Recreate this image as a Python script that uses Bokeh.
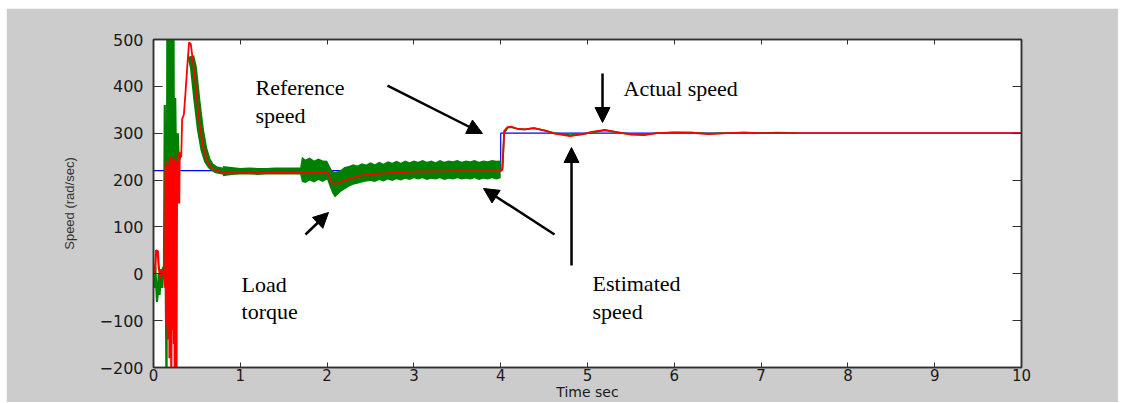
from bokeh.plotting import figure
from bokeh.models import Range1d, LinearAxis, Label, Arrow, NormalHead, FixedTicker, Spacer
from bokeh.layouts import column, row
from bokeh.embed import file_html
from bokeh.resources import INLINE

# ---------------- data ----------------
x_ticks = [0, 1, 2, 3, 4, 5, 6, 7, 8, 9, 10]
y_ticks = [-200, -100, 0, 100, 200, 300, 400, 500]

# reference speed (blue)
ref_t = [0.0, 4.0, 4.0, 10.0]
ref_v = [220, 220, 300, 300]

# actual speed (red): start-up oscillation
act0_t = [0.00, 0.02, 0.03, 0.05, 0.06, 0.08, 0.10, 0.12, 0.135, 0.140, 0.145, 0.150,
          0.155, 0.160, 0.165, 0.170, 0.175, 0.180, 0.185, 0.190, 0.195, 0.200, 0.205,
          0.210, 0.215, 0.220, 0.225, 0.230, 0.235, 0.240, 0.245, 0.250, 0.255, 0.260,
          0.265, 0.270, 0.275, 0.280, 0.285, 0.290, 0.295, 0.300, 0.305]
act0_v = [0, 10, 50, 48, 15, -10, 10, 0, -30, 230, -110, 200,
          -100, 240, -140, 230, -90, 210, -180, 250, -100, 220, -200,
          240, -120, 235, -60, 250, -150, 230, -200, 245, -100, 240,
          -200, 235, 150, 240, 160, 255, 150, 260, 250]
# actual speed (red): rest of the run
act_t = [0.305, 0.320, 0.330, 0.350, 0.370, 0.390, 0.410, 0.430, 0.450, 0.480, 0.510,
         0.540, 0.580, 0.620, 0.660, 0.720, 0.800, 1.00, 1.50, 2.00, 2.02, 2.04, 2.08,
         2.14, 2.20, 2.30, 2.40, 2.55, 2.70, 3.00, 3.50, 4.00, 4.02, 4.04, 4.08, 4.12,
         4.20, 4.28, 4.38, 4.50, 4.62, 4.80, 4.95, 5.05, 5.20, 5.35, 5.50, 5.65, 5.80,
         6.00, 6.20, 6.40, 6.60, 6.80, 7.00, 10.0]
act_v = [250, 250, 330, 340, 390, 445, 494, 490, 460, 415, 355,
         305, 265, 240, 228, 220, 216, 215, 216, 217, 212, 198, 192,
         194, 199, 205, 210, 213, 215, 218, 219, 219, 222, 305, 313, 314,
         309, 308, 311, 306, 299, 294, 298, 303, 307, 302, 297, 296, 300,
         302, 301, 298, 300, 301, 300, 300]

# estimated speed (green): start-up transient
est0_t = [0.00, 0.01, 0.02, 0.03, 0.04, 0.05, 0.06, 0.07, 0.08, 0.09, 0.10, 0.11,
          0.12, 0.13, 0.135, 0.15, 0.16, 0.165, 0.17, 0.175, 0.18, 0.185, 0.19, 0.195,
          0.20, 0.205, 0.21, 0.22, 0.23, 0.235, 0.25, 0.26, 0.28, 0.29, 0.31]
est0_v = [20, -30, 15, -20, -60, -40, 0, -45, -10, 10, -30, 15,
          -10, 360, 170, -250, 560, 150, 560, 160, 560, 140, 560, 170,
          560, 200, 560, 230, 560, 240, 375, 230, 300, 240, 250]
# estimated speed: decay after the overshoot (thick trace)
est1_t = [0.43, 0.46, 0.50, 0.54, 0.58, 0.62, 0.66, 0.72, 0.80, 0.86]
est1_v = [465, 440, 370, 308, 266, 242, 230, 222, 219, 219]
# estimated speed: noisy band (lower / upper envelope)
band_t = [0.80, 0.90, 1.00, 1.10, 1.20, 1.30, 1.40, 1.50, 1.60, 1.69, 1.71, 1.75,
          1.80, 1.85, 1.90, 1.95, 2.00, 2.03, 2.06, 2.09, 2.12, 2.16, 2.20, 2.25,
          2.30, 2.35, 2.40, 2.45, 2.50, 2.55, 2.60, 2.65, 2.70, 2.75, 2.80, 2.85,
          2.90, 2.95, 3.00, 3.05, 3.10, 3.15, 3.20, 3.25, 3.30, 3.35, 3.40, 3.45,
          3.50, 3.55, 3.60, 3.65, 3.70, 3.75, 3.80, 3.85, 3.90, 3.95, 4.00]
band_lo = [208, 211, 212, 212, 211, 212, 212, 212, 212, 212, 196, 194,
           199, 195, 200, 196, 201, 186, 172, 163, 168, 175, 180, 186,
           190, 192, 195, 197, 198, 196, 200, 197, 201, 198, 202, 199,
           203, 200, 204, 201, 204, 200, 203, 201, 204, 200, 203, 201,
           204, 201, 203, 201, 204, 200, 203, 201, 204, 201, 204]
band_hi = [230, 228, 226, 227, 226, 226, 227, 227, 227, 227, 250, 244,
           248, 242, 246, 242, 241, 230, 220, 217, 219, 222, 228, 230,
           234, 231, 236, 233, 238, 234, 239, 235, 240, 237, 241, 237,
           242, 238, 242, 239, 243, 239, 242, 238, 243, 239, 242, 240,
           243, 239, 242, 240, 243, 239, 242, 240, 243, 241, 242]
# estimated speed after the step
est2_t = [4.00, 4.02, 4.04, 4.08, 4.12, 4.20, 4.28, 4.38, 4.50, 4.62, 4.80, 4.95,
          5.05, 5.20, 5.35, 5.50, 5.65, 5.80, 6.00, 6.20, 6.40, 6.60, 6.80, 7.00,
          7.20, 7.40]
est2_v = [220, 225, 300, 312, 313, 309, 308, 311, 306, 300, 296, 298,
          302, 306, 302, 298, 297, 300, 301, 301, 299, 300, 301, 300,
          301, 300]

# annotations
ann_text = ["Reference", "speed", "Load", "torque", "Actual speed", "Estimated", "speed"]
ann_x = [1.175, 1.175, 1.014, 1.014, 5.415, 5.058, 5.058]
ann_y = [397.6, 337.8, -22.8, -80.5, 395.4, -20.7, -80.5]
arr_x0 = [2.696, 4.620, 4.816, 5.173, 1.751]
arr_y0 = [401.8, 83.9, 17.7, 427.4, 83.9]
arr_x1 = [3.790, 3.802, 4.816, 5.173, 2.016]
arr_y1 = [299.4, 182.0, 269.5, 322.9, 130.8]

x_label = "Time sec"
y_label = "Speed (rad/sec)"

# ---------------- figure ----------------
p = figure(width=1112, height=394, x_range=Range1d(0, 10), y_range=Range1d(-200, 500),
           output_backend="svg", toolbar_location=None,
           min_border_left=147, min_border_right=97, min_border_top=31, min_border_bottom=35,
           background_fill_color="white", border_fill_color="#cccccc",
           outline_line_color="#303030", outline_line_width=1.5)
p.xgrid.visible = False
p.ygrid.visible = False

tick_font = "DejaVu Sans"
for ax in p.xaxis:
    ax.ticker = FixedTicker(ticks=x_ticks)
    ax.major_tick_in = 5
    ax.major_tick_out = 0
    ax.minor_tick_line_color = None
    ax.axis_line_color = "#303030"
    ax.axis_line_width = 1.5
    ax.major_tick_line_color = "#303030"
    ax.major_label_text_font = tick_font
    ax.major_label_text_font_size = "15px"
    ax.major_label_text_color = "#1a1a1a"
    ax.major_label_standoff = 1
    ax.axis_label = x_label
    ax.axis_label_text_font = tick_font
    ax.axis_label_text_font_size = "14px"
    ax.axis_label_text_font_style = "normal"
    ax.axis_label_text_color = "#1a1a1a"
    ax.axis_label_standoff = 0
for ax in p.yaxis:
    ax.ticker = FixedTicker(ticks=y_ticks)
    ax.major_tick_in = 9
    ax.major_tick_out = 0
    ax.minor_tick_line_color = None
    ax.axis_line_color = "#303030"
    ax.axis_line_width = 1.5
    ax.major_tick_line_color = "#303030"
    ax.major_label_text_font = tick_font
    ax.major_label_text_font_size = "16px"
    ax.major_label_text_color = "#1a1a1a"
    ax.major_label_standoff = 10
    ax.axis_label = y_label
    ax.axis_label_text_font = "Liberation Sans"
    ax.axis_label_text_font_size = "13px"
    ax.axis_label_text_font_style = "normal"
    ax.axis_label_text_color = "#333333"
    ax.axis_label_standoff = 20

top = LinearAxis(ticker=FixedTicker(ticks=x_ticks), major_tick_in=5, major_tick_out=0,
                 minor_tick_line_color=None,
                 major_label_overrides={t: "" for t in x_ticks},
                 major_label_standoff=0, axis_line_color="#303030", axis_line_width=1.5,
                 major_tick_line_color="#303030")
right = LinearAxis(ticker=FixedTicker(ticks=y_ticks), major_tick_in=9, major_tick_out=0,
                   minor_tick_line_color=None,
                   major_label_overrides={t: "" for t in y_ticks},
                   major_label_standoff=0, axis_line_color="#303030", axis_line_width=1.5,
                   major_tick_line_color="#303030")
p.add_layout(top, "above")
p.add_layout(right, "right")

# ---------------- traces ----------------
p.line(ref_t, ref_v, line_color="#0000ff", line_width=1.2)
p.line(est0_t, est0_v, line_color="#008000", line_width=2.2)
p.line(est1_t, est1_v, line_color="#008000", line_width=7)
p.varea(x=band_t, y1=band_lo, y2=band_hi, fill_color="#008000")
p.line(est2_t, est2_v, line_color="#008000", line_width=1.8)
p.line(act0_t, act0_v, line_color="#ff0000", line_width=2.2)
p.line(act_t, act_v, line_color="#ff0000", line_width=1.8)

# ---------------- annotations ----------------
for t, x, y in zip(ann_text, ann_x, ann_y):
    p.add_layout(Label(x=x, y=y, text=t, text_font="Liberation Serif", text_font_size="22px",
                       text_color="black", text_baseline="alphabetic", text_align="left"))
for x0, y0, x1, y1 in zip(arr_x0, arr_y0, arr_x1, arr_y1):
    p.add_layout(Arrow(end=NormalHead(size=15, fill_color="black", line_color="black"),
                       x_start=x0, y_start=y0, x_end=x1, y_end=y1,
                       line_color="black", line_width=2.5))

page = column(Spacer(height=8), row(Spacer(width=6), p))
open("out.html", "w").write(file_html(page, INLINE))
